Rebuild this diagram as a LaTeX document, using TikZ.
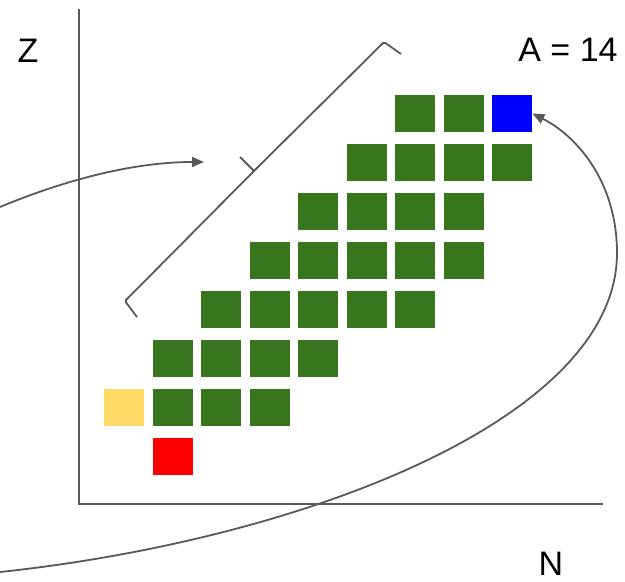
\documentclass[tikz,border=0pt]{standalone}
\usepackage{fontspec}
\setmainfont{Liberation Sans}
\usetikzlibrary{arrows.meta}
\definecolor{cgreen}{HTML}{38761D}
\definecolor{cyellow}{HTML}{FFD966}
\definecolor{cred}{HTML}{FF0000}
\definecolor{cblue}{HTML}{0000FF}
\definecolor{cline}{HTML}{595959}
\tikzset{
  cell/.style={inner sep=0pt, outer sep=0pt, minimum width=40pt, minimum height=37pt, draw=none},
  axisline/.style={draw=cline, line width=1.8pt},
  conn/.style={draw=cline, line width=1.8pt, -{Triangle[length=12pt,width=10pt]}},
  bracket/.style={draw=cline, line width=1.8pt, rounded corners=1.5pt},
  lbl/.style={inner sep=0pt, font=\fontsize{34}{40}\selectfont}
}
\begin{document}
\begin{tikzpicture}[x=1pt,y=-1pt]
\useasboundingbox (0,0) rectangle (625,582);
% axes
\coordinate (ztop) at (79,9);
\coordinate (orig) at (79,504);
\coordinate (nend) at (603,504);
\draw[axisline] (ztop) -- (orig) -- (nend);
% labels
\node[lbl] (zl) at (28,51) {Z};
\node[lbl] (al) at (568,50) {A = 14};
\node[lbl] (nl) at (551,564) {N};
% green cells: row / list of columns
\foreach \r/\cols in {0/{6,7}, 1/{5,6,7,8}, 2/{4,5,6,7}, 3/{3,4,5,6,7}, 4/{2,3,4,5,6}, 5/{1,2,3,4}, 6/{1,2,3}}{
  \foreach \c in \cols {
    \node[cell, fill=cgreen] (s-\r-\c) at ({124+48.55*\c},{113.5+49*\r}) {};
  }
}
\node[cell, fill=cblue] (blue) at ({124+48.55*8},{113.5}) {};
\node[cell, fill=cyellow] (yellow) at (124,{113.5+49*6}) {};
\node[cell, fill=cred] (red) at ({124+48.55},{113.5+49*7}) {};
% bracket
\coordinate (b1) at (137,317);
\coordinate (b2) at (125,301);
\coordinate (b3) at (252,173);
\coordinate (b4) at (256,169);
\coordinate (b5) at (384,42);
\coordinate (b6) at (401,54);
\coordinate (cusp) at (240,157);
\coordinate (cuspb) at (254,171);
\draw[bracket] (b1) -- (b2) -- (b3) -- (b4) -- (b5) -- (b6);
\draw[bracket] (cusp) -- (cuspb);
% arrows
\coordinate (s1) at (0,207);
\coordinate (e1) at (204,162);
\draw[conn] (s1) .. controls (60,182) and (130,162) .. (e1);
\coordinate (s2) at (0,572);
\coordinate (m2) at (617,253);
\draw[conn] (s2) .. controls (300,540) and (617,420) .. (m2)
  .. controls (617,180) and (575,135) .. (blue.east);
\end{tikzpicture}
\end{document}
